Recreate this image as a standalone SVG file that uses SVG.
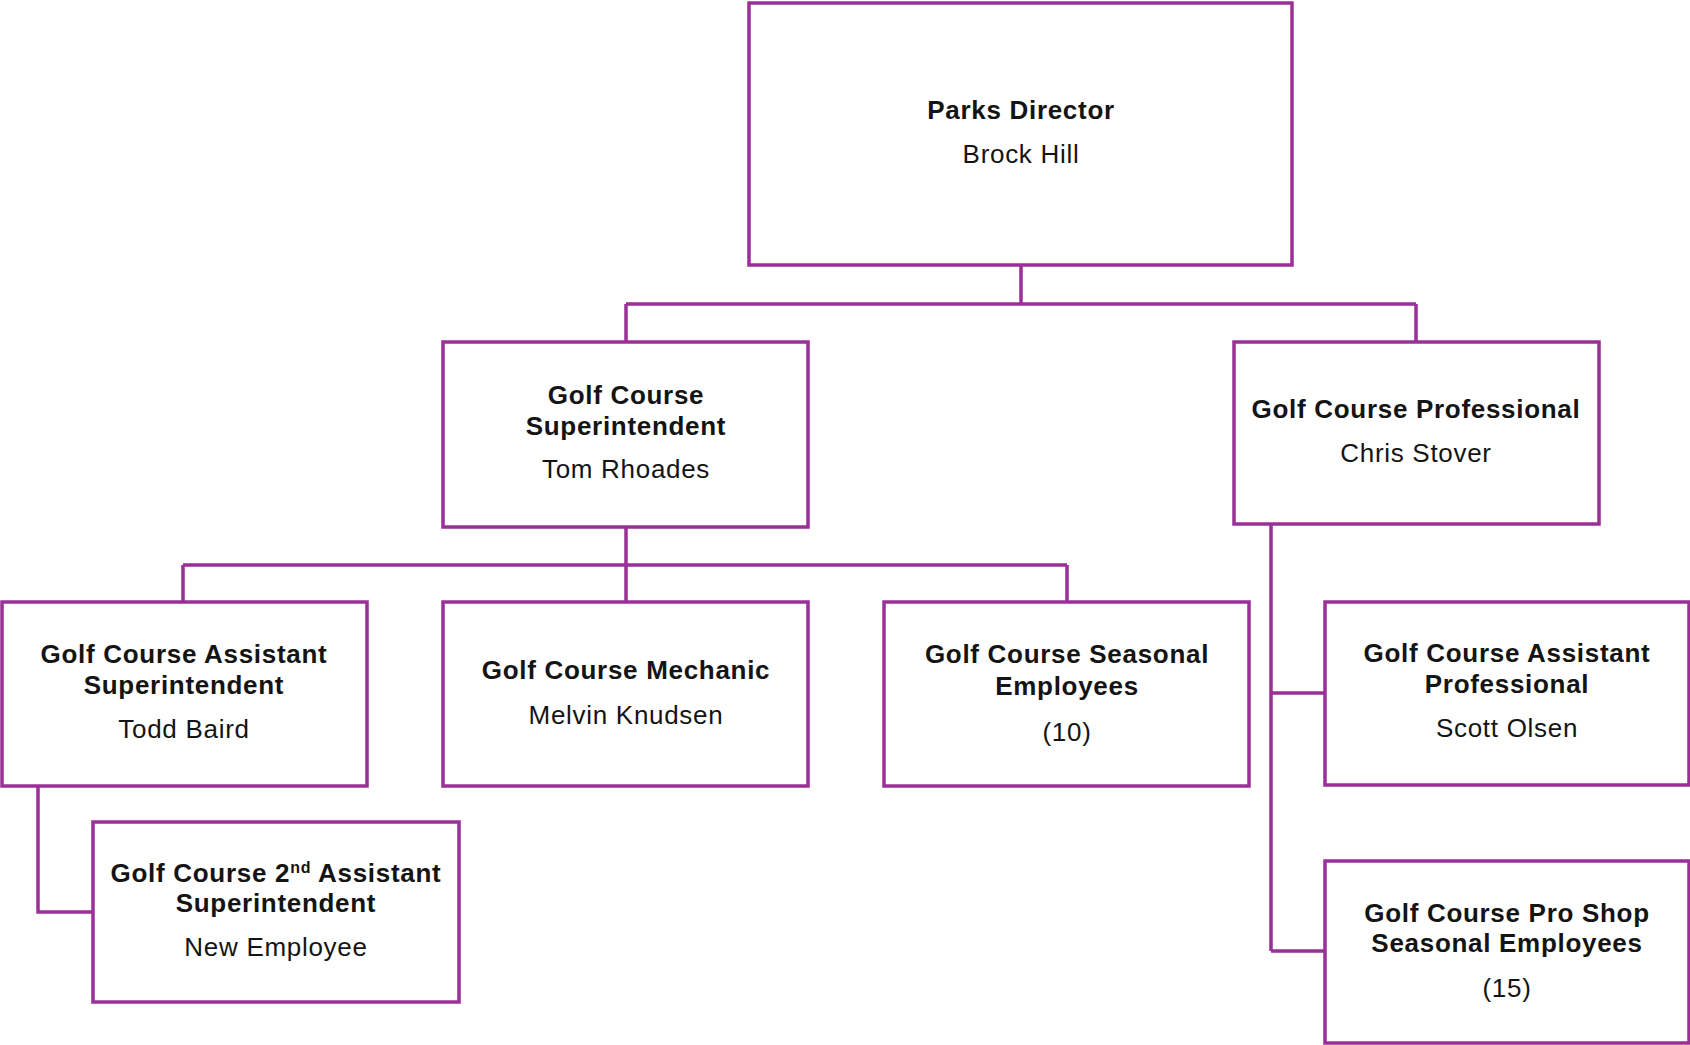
<svg xmlns="http://www.w3.org/2000/svg" width="1690" height="1045" viewBox="0 0 1690 1045">
  <style>
    .box { fill: #ffffff; stroke: #9b2f98; stroke-width: 3.5; }
    .link { fill: none; stroke: #9b2f98; stroke-width: 3.5; }
    text { font-family: "Liberation Sans", Arial, sans-serif; fill: #141414; text-anchor: middle; font-size: 26px; letter-spacing: 0.7px; }
    .title { font-weight: bold; }
    .name { font-weight: normal; }
    .sup { font-size: 16px; }
  </style>
  <rect width="1690" height="1045" fill="#ffffff"/>

  <!-- reporting lines -->
  <g id="connectors">
    <path class="link" d="M1021 265 V304 M626 304 H1416 M626 304 V342 M1416 304 V342"/>
    <path class="link" d="M626 527 V602 M183 565 H1067 M183 565 V602 M1067 565 V602"/>
    <path class="link" d="M38 786 V912 H93"/>
    <path class="link" d="M1271 524 V951 M1271 693 H1325 M1271 951 H1325"/>
  </g>

  <g id="parks-director">
    <rect class="box" x="749" y="3" width="543" height="262"/>
    <text class="title" x="1021" y="119">Parks Director</text>
    <text class="name" x="1021" y="163">Brock Hill</text>
  </g>

  <g id="golf-course-superintendent">
    <rect class="box" x="443" y="342" width="365" height="185"/>
    <text class="title" x="626" y="404">Golf Course</text>
    <text class="title" x="626" y="435">Superintendent</text>
    <text class="name" x="626" y="478">Tom Rhoades</text>
  </g>

  <g id="golf-course-professional">
    <rect class="box" x="1234" y="342" width="365" height="182"/>
    <text class="title" x="1416" y="418">Golf Course Professional</text>
    <text class="name" x="1416" y="462">Chris Stover</text>
  </g>

  <g id="assistant-superintendent">
    <rect class="box" x="2" y="602" width="365" height="184"/>
    <text class="title" x="184" y="663">Golf Course Assistant</text>
    <text class="title" x="184" y="694">Superintendent</text>
    <text class="name" x="184" y="738">Todd Baird</text>
  </g>

  <g id="mechanic">
    <rect class="box" x="443" y="602" width="365" height="184"/>
    <text class="title" x="626" y="679">Golf Course Mechanic</text>
    <text class="name" x="626" y="724">Melvin Knudsen</text>
  </g>

  <g id="seasonal-employees">
    <rect class="box" x="884" y="602" width="365" height="184"/>
    <text class="title" x="1067" y="663">Golf Course Seasonal</text>
    <text class="title" x="1067" y="695">Employees</text>
    <text class="name" x="1067" y="741">(10)</text>
  </g>

  <g id="second-assistant-superintendent">
    <rect class="box" x="93" y="822" width="366" height="180"/>
    <text class="title" x="276" y="882">Golf Course 2<tspan class="sup" dy="-9">nd</tspan><tspan dy="9"> Assistant</tspan></text>
    <text class="title" x="276" y="912">Superintendent</text>
    <text class="name" x="276" y="956">New Employee</text>
  </g>

  <g id="assistant-professional">
    <rect class="box" x="1325" y="602" width="364" height="183"/>
    <text class="title" x="1507" y="662">Golf Course Assistant</text>
    <text class="title" x="1507" y="693">Professional</text>
    <text class="name" x="1507" y="737">Scott Olsen</text>
  </g>

  <g id="pro-shop-seasonal">
    <rect class="box" x="1325" y="861" width="364" height="182"/>
    <text class="title" x="1507" y="922">Golf Course Pro Shop</text>
    <text class="title" x="1507" y="952">Seasonal Employees</text>
    <text class="name" x="1507" y="997">(15)</text>
  </g>
</svg>
